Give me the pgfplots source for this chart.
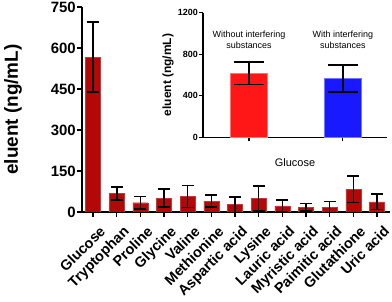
\documentclass[border=0pt]{standalone}
\usepackage{pgfplots}
\pgfplotsset{compat=1.18}
\usepackage{fontspec}
\setmainfont{Liberation Sans}
\definecolor{mainred}{RGB}{180,8,8}
\definecolor{insred}{RGB}{255,22,22}
\definecolor{insblue}{RGB}{25,25,255}
\begin{document}
\begin{tikzpicture}[x=1bp,y=1bp]
\useasboundingbox (0,0) rectangle (392,302);
% main axis
\begin{axis}[
  at={(82bp,90bp)}, anchor=south west,
  scale only axis, width=308bp, height=205bp,
  xmin=-0.47, xmax=12.55, ymin=0, ymax=750,
  axis x line*=bottom, axis y line*=left,
  axis line style={line width=1.6pt},
  ytick={0,150,300,450,600,750},
  xtick={0,...,12},
  xticklabels={Glucose,Tryptophan,Proline,Glycine,Valine,Methionine,Aspartic acid,Lysine,Lauric acid,Myristic acid,Paimitic acid,Glutathione,Uric acid},
  xticklabel style={rotate=45, anchor=north east, font=\bfseries\fontsize{14.5}{14.5}\selectfont, inner sep=0.5bp, xshift=-1bp, yshift=-9bp},
  y tick label style={font=\bfseries\fontsize{15}{15}\selectfont, inner sep=1bp},
  /pgf/number format/assume math mode=true,
  tick align=outside, major tick length=5bp,
  tick style={line width=1.4pt, black},
  ylabel={eluent (ng/mL)},
  ylabel style={at={(axis description cs:-0.224,0.5)}, anchor=center, rotate=0, font=\bfseries\fontsize{19}{19}\selectfont},
  clip=true,
]
\addplot[ybar, bar width=15bp, fill=mainred, draw=mainred!80!white, line width=0.4pt,
  error bars/.cd, y dir=both, y explicit,
  error bar style={line width=1.5pt, black},
  error mark options={rotate=90, line width=1.5pt, mark size=6bp, black}]
  table[x=x, y=y, y error=e] {
x y e
0 567 128
1 67 24
2 34 23
3 51 33
4 57 40
5 40 22
6 27 28
7 49 46
8 22 22
9 17 14
10 17 21
11 83 49
12 37 28
};
\end{axis}
% inset
\begin{axis}[
  at={(203bp,164.7bp)}, anchor=south west,
  scale only axis, width=184bp, height=124.6bp,
  xmin=-0.49, xmax=1.47, ymin=0, ymax=1200,
  axis x line*=bottom, axis y line*=left,
  axis line style={line width=1.2pt},
  ytick={0,400,800,1200},
  xtick={0,1}, xticklabels={},
  y tick label style={font=\bfseries\fontsize{9}{9}\selectfont, inner sep=1bp, /pgf/number format/1000 sep={}},
  /pgf/number format/assume math mode=true,
  tick align=outside, major tick length=4bp,
  tick style={line width=1.1pt, black},
  ylabel={eluent (ng/mL)},
  ylabel style={at={(axis description cs:-0.19,0.5)}, anchor=center, font=\bfseries\fontsize{12}{12}\selectfont},
  xlabel={Glucose},
  xlabel style={at={(axis description cs:0.5,-0.2)}, anchor=center, font=\fontsize{11}{11}\selectfont},
  clip=false,
]
\addplot[ybar, bar width=37bp, fill=insred, draw=insred!60!white, line width=0.6pt,
  error bars/.cd, y dir=both, y explicit,
  error bar style={line width=1.5pt, black},
  error mark options={rotate=90, line width=1.5pt, mark size=15bp, black}]
  table[x=x, y=y, y error=e] {
x y e
0 617 109
};
\addplot[ybar, bar width=37bp, fill=insblue, draw=insblue!60!white, line width=0.6pt,
  error bars/.cd, y dir=both, y explicit,
  error bar style={line width=1.5pt, black},
  error mark options={rotate=90, line width=1.5pt, mark size=15bp, black}]
  table[x=x, y=y, y error=e] {
x y e
1 565 130
};
\node[align=center, font=\fontsize{9}{10.5}\selectfont] at (axis cs:0,940) {Without interfering\\substances};
\node[align=center, font=\fontsize{9}{10.5}\selectfont] at (axis cs:1,940) {With interfering\\substances};
\end{axis}
\end{tikzpicture}
\end{document}
